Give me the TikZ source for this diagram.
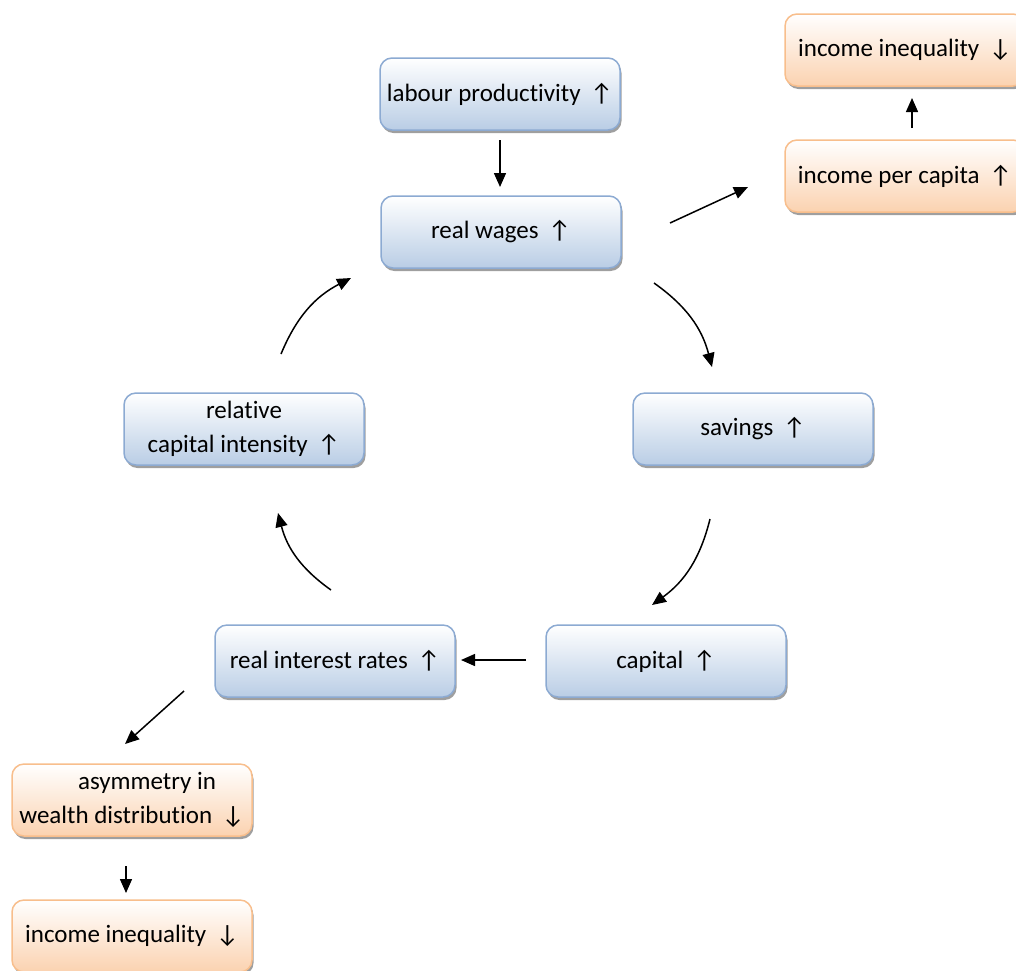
\documentclass[tikz,border=0pt]{standalone}
\usepackage{fontspec}
\setmainfont[RawFeature={-liga}]{Carlito}
\usetikzlibrary{arrows.meta,shadows}
\definecolor{bluebot}{RGB}{185,205,229}
\definecolor{blueline}{RGB}{140,170,210}
\definecolor{orbot}{RGB}{251,210,176}
\definecolor{orline}{RGB}{248,190,140}
\begin{document}
\begin{tikzpicture}[x=1pt,y=-1pt,
  base/.style={rounded corners=12pt, minimum width=240pt, minimum height=72pt,
    line width=1.5pt, align=center, font=\fontsize{25}{34}\selectfont, inner sep=2pt,
    drop shadow={shadow xshift=1.5pt, shadow yshift=-3pt, fill=gray!75, opacity=1}},
  bluebox/.style={base, draw=blueline, top color=white, bottom color=bluebot},
  orbox/.style={base, draw=orline, top color=white, bottom color=orbot},
  arr/.style={line width=1.5pt, -{Triangle[length=14pt,width=12pt]}}]
\useasboundingbox (0,0) rectangle (1016,970);
\node[bluebox] (lab) at (500,94) {labour productivity \,↑};
\node[bluebox] (rw) at (501,232) {real wages \,↑};
\node[orbox] (ii1) at (905,50) {income inequality \,↓};
\node[orbox] (ipc) at (905,176) {income per capita \,↑};
\node[bluebox] (rci) at (244,429) {relative\\capital intensity \,↑};
\node[bluebox] (sav) at (753,429) {savings \,↑};
\node[bluebox] (rir) at (335,661) {real interest rates \,↑};
\node[bluebox] (cap) at (666,661) {capital \,↑};
\node[orbox] (asy) at (132,800) {\hspace{1.2em}asymmetry in\\wealth distribution \,↓};
\node[orbox] (ii2) at (132,936) {income inequality \,↓};
% free ends
\coordinate (a1s) at (500,140); \coordinate (a1e) at (500,187);
\coordinate (a2s) at (670,223); \coordinate (a2e) at (748,187);
\coordinate (a3s) at (912,128); \coordinate (a3e) at (912,98);
\coordinate (a4s) at (654,283); \coordinate (a4e) at (712,367);
\coordinate (a5s) at (710,519); \coordinate (a5e) at (652,605);
\coordinate (a6s) at (526,660); \coordinate (a6e) at (461,660);
\coordinate (a7s) at (331,590); \coordinate (a7e) at (278,513);
\coordinate (a8s) at (281,354); \coordinate (a8e) at (351,278);
\coordinate (a9s) at (184,691); \coordinate (a9e) at (125,744);
\coordinate (a10s) at (126,866); \coordinate (a10e) at (126,893);
\draw[arr] (a1s) -- (a1e);
\draw[arr] (a2s) -- (a2e);
\draw[arr] (a3s) -- (a3e);
\draw[arr] (a4s) to[bend left=20] (a4e);
\draw[arr] (a5s) to[bend left=20] (a5e);
\draw[arr] (a6s) -- (a6e);
\draw[arr] (a7s) to[bend left=20] (a7e);
\draw[arr] (a8s) to[bend left=20] (a8e);
\draw[arr] (a9s) -- (a9e);
\draw[arr] (a10s) -- (a10e);
\end{tikzpicture}
\end{document}
